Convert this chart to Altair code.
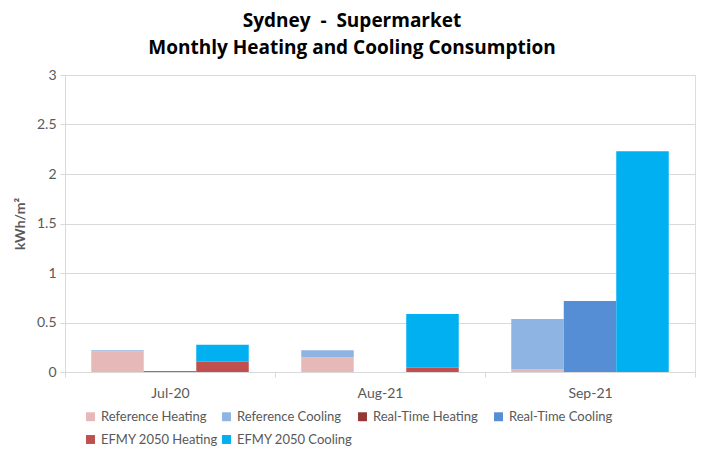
import altair as alt
import pandas as pd

months = ["Jul-20", "Aug-21", "Sep-21"]
scenarios = ["Reference", "Real-Time", "EFMY 2050"]
ref_heating = [0.21, 0.15, 0.03]
ref_cooling = [0.01, 0.07, 0.505]
rt_heating = [0.008, 0.0, 0.0]
rt_cooling = [0.0, 0.0, 0.717]
efmy_heating = [0.104, 0.044, 0.0]
efmy_cooling = [0.172, 0.542, 2.23]

series_names = ["Reference Heating", "Reference Cooling", "Real-Time Heating",
                "Real-Time Cooling", "EFMY 2050 Heating", "EFMY 2050 Cooling"]
series_colors = ["#E6B9B8", "#8EB4E3", "#953735", "#558ED5", "#C0504D", "#00B0F0"]

rows = []
data_map = {
    ("Reference", "Heating"): ref_heating,
    ("Reference", "Cooling"): ref_cooling,
    ("Real-Time", "Heating"): rt_heating,
    ("Real-Time", "Cooling"): rt_cooling,
    ("EFMY 2050", "Heating"): efmy_heating,
    ("EFMY 2050", "Cooling"): efmy_cooling,
}
for (sc, kind), vals in data_map.items():
    for m, v in zip(months, vals):
        rows.append({"month": m, "scenario": sc, "kind": kind,
                     "series": f"{sc} {kind}", "value": v,
                     "ord": 0 if kind == "Heating" else 1})
df = pd.DataFrame(rows)

FONT = "Lato"
GRAY = "#595959"

chart = alt.Chart(df).mark_bar().encode(
    x=alt.X("month:N", sort=months, title=None,
            scale=alt.Scale(paddingInner=0, paddingOuter=0),
            axis=alt.Axis(labelAngle=0, tickBand="extent", tickSize=5,
                          domainColor="#D9D9D9", tickColor="#D9D9D9",
                          labelColor=GRAY, labelFontSize=14, labelFont=FONT,
                          labelPadding=9)),
    xOffset=alt.XOffset("scenario:N", sort=scenarios,
                        scale=alt.Scale(paddingInner=0, paddingOuter=0.5)),
    y=alt.Y("value:Q", stack="zero", title="kWh/m²",
            scale=alt.Scale(domain=[0, 3], nice=False),
            axis=alt.Axis(values=[0, 0.5, 1, 1.5, 2, 2.5, 3], tickSize=5,
                          format="~g",
                          domainColor="#D9D9D9", tickColor="#D9D9D9",
                          gridColor="#D9D9D9", labelColor=GRAY,
                          labelFontSize=14, labelFont=FONT, labelPadding=4,
                          titleColor=GRAY, titleFontSize=14, titleFont=FONT,
                          titleFontWeight="bold", titlePadding=9)),
    color=alt.Color("series:N", sort=series_names,
                    scale=alt.Scale(domain=series_names, range=series_colors),
                    legend=alt.Legend(orient="none", legendX=19, legendY=335,
                                      direction="horizontal", columns=4,
                                      title=None, symbolType="square",
                                      symbolSize=80, symbolStrokeWidth=0,
                                      labelColor=GRAY, labelFontSize=13,
                                      labelFont=FONT, labelOffset=4,
                                      columnPadding=2,
                                      rowPadding=9, gridAlign="all")),
    order=alt.Order("ord:Q"),
).properties(
    width=630, height=297,
    padding={"left": 57, "top": 67, "right": 1, "bottom": 74},
    autosize=alt.AutoSizeParams(type="none"),
    title=alt.TitleParams(["Sydney\u00a0 -\u00a0 Supermarket",
                           "Monthly Heating and Cooling Consumption"],
                          font="Open Sans", fontSize=19, fontWeight="bold",
                          color="#000000", dx=-28, offset=10, lineHeight=27),
).configure_view(stroke=None).configure(background="white")

chart.save("out.html", embed_options={"renderer": "svg", "actions": False})
